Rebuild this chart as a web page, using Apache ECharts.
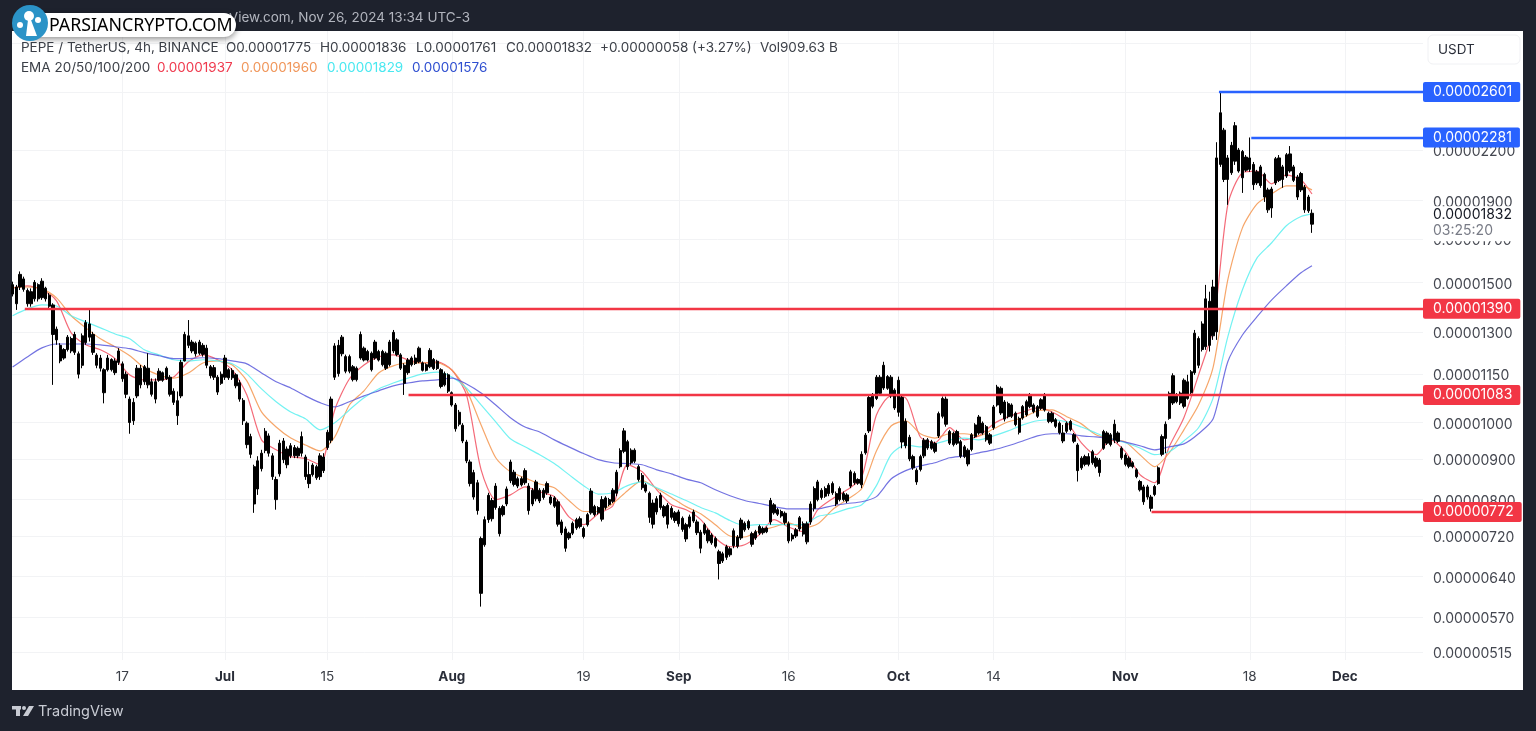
<!DOCTYPE html>
<html>
<head>
<meta charset="utf-8">
<style>html,body{margin:0;height:100%;background:#1e222d}#chart{width:1536px;height:731px}</style>
<script src="https://cdn.jsdelivr.net/npm/echarts@6/dist/echarts.min.js"></script>
</head>
<body>
<div id="chart"></div>
<script>
// prices are kept in units of 0.00000001 USDT, one bar per 12h from Jun 2
const opens = [1450,1480,1480,1515,1465,1410,1430,1490,1435,1475,1445,1405,1270,1250,1205,1235,1275,1225,1220,1180,1260,1330,1290,1215,1170,1165,1165,1200,1155,1190,1185,1150,1070,1005,1080,1170,1125,1170,1125,1070,
1130,1155,1135,1140,1095,1065,1080,1195,1285,1230,1258,1222,1250,1240,1175,1140,1140,1120,1140,1165,1138,1148,1122,1066,998,960,880,825,875,922,
962,908,848,862,948,885,908,930,908,915,905,860,860,880,855,905,930,950,1140,1250,1220,1210,1160,1175,1132,1205,1240,1198,1222,1205,
1228,1228,1170,1182,1230,1270,1216,1180,1155,1182,1205,1192,1188,1163,1175,1200,1169,1165,1115,1148,1090,1052,995,992,945,892,865,840,715,702,
755,798,782,780,766,790,845,866,832,850,840,832,790,802,822,805,816,806,804,795,750,735,716,726,737,757,736,744,770,784,
770,800,782,800,796,815,880,920,946,890,923,880,858,835,815,745,772,810,784,787,760,770,746,758,744,740,752,750,728,726,
732,722,715,688,670,677,694,700,718,716,747,737,725,716,726,736,729,750,788,777,773,769,746,714,720,735,746,708,750,780,
800,822,808,814,838,814,800,814,797,832,863,839,835,916,976,1082,1072,1140,1105,1142,1140,1098,1030,1075,935,958,906,871,873,908,
951,928,941,962,1018,1070,974,938,974,946,906,923,925,960,970,998,988,942,985,1052,1104,1010,1056,1018,1027,1012,1013,1022,1047,1052,
1018,1042,1084,1027,1003,1008,998,970,975,1003,965,937,877,886,906,890,902,897,928,970,938,950,970,928,910,902,890,872,843,830,
806,806,812,838,912,955,1012,1058,1084,1058,1048,1125,1090,1155,1275,1235,1245,1420,1285,1300,2110,2330,2150,2060,2360,2070,2190,2075,2150,2110,
2000,2095,2050,1960,1860,2000,2150,2020,2040,2175,2095,2035,1960,1975,1920,1775];
const closes = [1490,1410,1535,1470,1410,1460,1500,1430,1505,1430,1400,1290,1310,1195,1235,1280,1230,1290,1150,1285,1335,1280,1225,1180,1205,1090,1205,1165,1195,1230,1135,1085,1000,1060,1170,1115,1175,1115,1085,1125,
1160,1130,1170,1085,1060,1020,1190,1290,1250,1262,1220,1262,1218,1180,1145,1172,1092,1150,1205,1138,1162,1112,1070,1005,938,912,790,895,915,975,
915,855,800,942,898,926,935,908,928,960,855,838,884,852,908,870,972,1070,1248,1152,1280,1160,1210,1132,1170,1290,1198,1228,1165,1262,
1198,1182,1222,1262,1298,1217,1170,1120,1198,1205,1186,1240,1163,1182,1232,1169,1194,1110,1152,1095,1052,982,1030,948,895,838,806,775,610,755,
810,757,832,725,784,825,892,836,850,835,870,775,822,842,797,822,838,792,785,745,727,695,726,747,755,740,719,766,820,766,
782,756,804,789,822,866,922,976,880,923,894,848,828,820,760,792,802,782,763,745,780,753,772,734,714,761,772,727,695,744,
710,706,699,665,684,698,682,731,699,754,733,751,703,729,740,727,737,798,770,767,763,749,710,722,733,759,724,746,790,826,
842,805,826,834,816,790,826,800,811,867,840,848,912,964,1075,1048,1140,1088,1180,1104,1080,1043,1130,945,1003,900,877,842,906,950,
929,946,920,1026,1072,995,942,969,942,907,932,887,965,993,1016,970,951,965,1046,1108,1028,1061,1017,1052,994,972,1047,1062,1083,1032,
1047,1068,1037,1003,1027,989,971,948,998,980,947,870,902,906,886,919,881,865,974,942,965,995,947,903,886,881,880,855,823,795,
830,780,831,877,960,995,1088,1145,1062,1089,1130,1072,1158,1295,1180,1330,1430,1250,1480,2150,2450,2020,2020,2230,2130,2200,2030,2155,2080,1990,
2065,1985,1920,1850,1965,2145,2015,2095,2170,2070,2015,1920,2055,1850,1845,1832];
const highs = [1503,1489,1548,1525,1474,1474,1510,1496,1518,1481,1454,1412,1320,1258,1240,1288,1282,1300,1228,1294,1345,1385,1300,1222,1216,1170,1216,1204,1204,1240,1193,1159,1078,1073,1181,1181,1181,1222,1136,1136,
1170,1159,1176,1147,1104,1094,1199,1300,1345,1270,1264,1270,1258,1252,1181,1181,1147,1159,1216,1170,1170,1153,1131,1073,1003,968,885,907,924,984,
969,915,855,951,956,933,942,937,933,974,911,893,889,885,915,915,979,1078,1258,1270,1288,1217,1217,1181,1176,1301,1246,1234,1228,1270,
1234,1234,1228,1270,1307,1276,1222,1187,1205,1211,1217,1246,1193,1187,1240,1205,1199,1170,1159,1153,1094,1058,1037,998,951,898,872,847,719,762,
816,804,839,785,788,831,898,872,855,855,876,839,827,847,827,827,843,811,808,800,755,740,729,751,759,762,740,770,827,788,
785,808,808,804,827,872,928,984,951,928,928,885,864,839,819,800,808,816,788,792,785,774,777,762,748,766,777,755,733,748,
736,726,719,692,688,702,698,736,722,759,751,755,729,733,744,740,740,804,792,781,777,773,751,726,737,763,751,751,796,831,
847,827,831,839,843,819,831,819,815,872,868,851,920,970,1083,1089,1147,1147,1192,1147,1147,1104,1142,1083,1012,965,911,876,911,956,
956,951,946,1032,1078,1078,979,974,979,951,937,928,970,998,1022,1003,993,970,1052,1115,1110,1067,1062,1057,1032,1017,1052,1068,1089,1057,
1052,1073,1089,1032,1032,1013,1003,993,1003,1008,970,942,907,911,915,924,907,902,979,975,970,1008,975,933,915,907,894,876,847,835,
835,811,835,881,966,1003,1094,1153,1089,1094,1136,1148,1164,1307,1283,1340,1489,1460,1511,2250,2601,2345,2168,2252,2385,2213,2200,2168,2281,2125,
2077,2107,2060,1972,1978,2156,2168,2107,2181,2225,2107,2047,2065,1988,1932,1852];
const lows = [1440,1385,1467,1460,1398,1398,1419,1419,1426,1419,1392,1115,1252,1187,1199,1228,1222,1216,1136,1170,1252,1264,1216,1170,1159,1057,1159,1159,1147,1181,1125,1073,968,993,1073,1104,1115,1104,1078,1057,
1125,1125,1131,1078,1052,993,1073,1193,1240,1222,1210,1216,1210,1170,1136,1131,1083,1115,1131,1131,1131,1104,1062,993,928,902,770,811,868,915,
906,847,777,855,889,876,902,902,902,906,847,827,855,847,847,864,924,942,1131,1142,1211,1153,1153,1126,1126,1199,1193,1193,1159,1199,
1193,1176,1164,1176,1222,1211,1164,1083,1148,1176,1181,1187,1159,1159,1170,1164,1164,1104,1110,1089,1047,974,989,942,889,831,800,766,587,698,
748,751,777,719,762,785,839,831,827,831,835,766,785,796,792,800,811,788,781,740,722,688,712,722,733,736,715,740,766,762,
766,751,777,785,792,808,876,915,872,885,889,843,823,816,748,736,766,777,759,736,755,748,740,729,708,736,748,722,685,722,
705,702,695,635,666,672,678,695,695,712,729,733,698,712,722,723,726,744,766,763,759,744,705,709,716,730,719,703,744,773,
796,800,804,808,811,785,796,796,792,827,835,835,827,911,970,1042,1067,1083,1099,1099,1073,1037,1017,928,928,894,872,835,868,902,
924,924,915,956,1012,988,937,933,937,902,902,881,920,956,965,965,946,937,979,1047,1022,1003,1012,1013,989,966,1008,1017,1042,1027,
1013,1037,1032,998,998,984,966,942,970,975,942,843,872,881,881,885,876,855,924,937,933,942,942,898,881,876,876,851,819,788,
800,773,808,835,907,915,1008,1052,1057,1052,1042,1068,1084,1148,1170,1228,1234,1228,1270,1270,2095,2005,1877,2047,2107,2060,1943,2065,2065,1960,
1988,1972,1893,1834,1808,1988,2005,1972,2029,2060,2005,1904,1948,1834,1834,1731];

// moving averages, one reading every 2 days from Jun 2, last one is the current bar
const ema20 = [1476,1485,1468,1422,1296,1252,1234,1203,1147,1131,1131,1141,1192,1216,1199,1164,1083,951,924,906,901,885,1037,1134,1181,1209,1216,1199,1188,1192,1164,1083,872,800,811,830,818,807,761,744,768,786,885,867,823,788,777,755,716,698,702,723,755,739,729,777,802,823,854,1022,1080,1074,959,943,985,951,962,996,1017,1031,1043,1031,1002,943,911,951,919,860,840,932,1014,1147,1315,1877,2060,2070,1995,2047,2017,1937];
const ema50 = [1476,1480,1472,1434,1362,1315,1274,1245,1213,1171,1147,1137,1154,1188,1195,1181,1128,1031,987,956,937,921,959,1052,1096,1154,1178,1188,1188,1188,1164,1099,993,903,867,852,837,828,798,773,773,791,821,845,826,805,784,768,744,720,718,731,739,748,737,746,777,800,826,921,990,1005,968,956,968,968,962,982,1002,1014,1034,1037,1017,996,965,954,945,911,880,916,979,1052,1174,1511,1756,1882,1937,1983,1983,1960];
const ema100 = [1362,1389,1405,1401,1362,1338,1315,1292,1274,1234,1216,1199,1195,1199,1195,1185,1151,1102,1062,1031,1011,979,999,1037,1074,1102,1121,1137,1151,1157,1141,1105,1052,1002,954,932,911,888,860,833,813,816,833,842,828,813,798,782,770,753,742,744,744,744,744,762,768,779,788,833,911,937,932,940,951,956,951,962,976,993,1005,1008,1002,987,970,954,943,929,911,919,948,985,1074,1281,1468,1610,1682,1767,1815,1829];
const ema200 = [1174,1209,1241,1255,1255,1255,1252,1245,1238,1224,1213,1203,1203,1206,1203,1195,1185,1154,1125,1105,1080,1059,1046,1062,1080,1096,1112,1121,1128,1131,1137,1118,1089,1052,1014,987,973,951,932,914,898,890,888,885,872,862,849,840,823,809,798,791,784,779,779,779,786,791,795,807,849,870,882,890,903,908,916,924,935,948,962,968,968,962,959,954,945,935,924,932,940,968,1011,1192,1288,1358,1426,1485,1542,1574];

// drawn levels
const levelValues = [2601,2281,1390,1083,772];
const levelStarts = ['2024-11-13T19:00Z','2024-11-18T05:00Z','2024-06-03T16:00Z','2024-07-26T02:00Z','2024-11-04T14:00Z'];
const levelColors = ['#2962ff','#2962ff','#f23645','#f23645','#f23645'];

const yTicks = [3000,2600,2200,1900,1700,1500,1300,1150,1000,900,800,720,640,570,515];
const xTicks = ['2024-06-17','2024-07-01','2024-07-15','2024-08-01','2024-08-19','2024-09-01','2024-09-16','2024-10-01','2024-10-14','2024-11-01','2024-11-18','2024-12-01'];
const xLabels = ['17','Jul','15','Aug','19','Sep','16','Oct','14','Nov','18','Dec'];
const lastPrice = 1832;
const countdown = '03:25:20';

const DAY = 86400000;
const T0 = Date.UTC(2024, 5, 2);
const xMin = T0 - 2 * 3600000;
const xMax = Date.UTC(2024, 11, 11, 16);
const fmt = v => (v / 1e8).toFixed(8);
const xTickTimes = xTicks.map(d => Date.parse(d + 'T00:00Z'));

const bars = opens.map((o, i) => [T0 + i * DAY / 2, o, closes[i], lows[i], highs[i]]);
const emaLine = (vals, color) => ({
  type: 'line', data: vals.map((v, i) => [i < vals.length - 1 ? T0 + i * 2 * DAY : bars[bars.length - 1][0], v]),
  showSymbol: false, smooth: 0.25, z: 2, silent: true, lineStyle: { width: 1.2, color }
});

const levelLines = {
  type: 'line', data: [], z: 4, silent: true,
  markLine: {
    symbol: 'none', silent: true, animation: false,
    data: levelValues.map((v, i) => [
      { coord: [Date.parse(levelStarts[i]), v], lineStyle: { color: levelColors[i], width: 2.4, type: 'solid' },
        label: { backgroundColor: levelColors[i], formatter: fmt(v) } },
      { coord: [xMax, v] }
    ]),
    label: {
      show: true, position: 'end', distance: 0, color: '#fff', fontFamily: 'Inter', fontSize: 14,
      padding: [3, 8, 3, 10], borderRadius: 2
    }
  }
};

// current price and countdown, painted over the axis labels like the original
const lastLabel = {
  type: 'line', data: [], z: 3, silent: true,
  markLine: {
    symbol: 'none', silent: true, animation: false, lineStyle: { color: '#fff', width: 0.1 },
    data: [[{ coord: [xMax - DAY, lastPrice] }, { coord: [xMax, lastPrice] }]],
    label: {
      show: true, position: 'end', distance: 0, offset: [0, 10.5], backgroundColor: '#fff', padding: [1, 10, 2, 10],
      formatter: '{a|' + fmt(lastPrice) + '}\n{b|' + countdown + '}',
      rich: {
        a: { color: '#131722', fontFamily: 'Inter', fontSize: 14, lineHeight: 16, width: 80 },
        b: { color: '#787b86', fontFamily: 'Inter', fontSize: 14, lineHeight: 16, width: 80 }
      }
    }
  }
};

const headerText = (x, y, text, fill, size) => ({
  type: 'text', x, y, z: 10, style: { text, fill, font: (size || 13.5) + 'px Inter', textVerticalAlign: 'middle' }
});

const chart = echarts.init(document.getElementById('chart'));
chart.setOption({
  animation: false,
  backgroundColor: '#1e222d',
  grid: { left: 12, right: 113, top: 31, height: 629, containLabel: false },
  xAxis: {
    type: 'value', min: xMin, max: xMax, scale: true,
    axisLine: { show: false }, axisTick: { show: false, customValues: xTickTimes },
    splitLine: { show: true, lineStyle: { color: '#f2f3f5', width: 1 } },
    axisLabel: {
      customValues: xTickTimes, hideOverlap: false, margin: 10,
      formatter: v => {
        const s = xLabels[xTickTimes.indexOf(v)];
        return isNaN(+s) ? '{m|' + s + '}' : '{d|' + s + '}';
      },
      rich: {
        m: { fontFamily: 'Inter', fontWeight: 'bold', fontSize: 13.5, color: '#2a2e39' },
        d: { fontFamily: 'Inter', fontSize: 13.5, color: '#3c4048' }
      }
    }
  },
  yAxis: {
    type: 'log', logBase: 10, position: 'right', min: 503, max: 3104,
    axisLine: { show: false }, axisTick: { show: false, customValues: yTicks },
    splitLine: { show: true, lineStyle: { color: '#f2f3f5', width: 1 } },
    minorSplitLine: { show: false },
    axisLabel: {
      customValues: yTicks, margin: 10, hideOverlap: false,
      formatter: v => '{v|' + fmt(v) + '}',
      rich: { v: { color: '#444750', fontFamily: 'Inter', fontSize: 14, padding: [4, 0, 0, 0] } }
    }
  },
  series: [
    emaLine(ema20, 'rgba(242,80,96,0.85)'),
    emaLine(ema50, 'rgba(245,150,80,0.85)'),
    emaLine(ema100, 'rgba(90,240,240,0.85)'),
    emaLine(ema200, 'rgba(90,90,220,0.85)'),
    {
      type: 'candlestick', data: bars, encode: { x: 0, y: [1, 2, 3, 4] }, z: 3, silent: true, barWidth: 2.8,
      itemStyle: { color: '#000', color0: '#000', borderColor: '#000', borderColor0: '#000', borderWidth: 1 }
    },
    levelLines,
    lastLabel
  ],
  graphic: [
    // white panel behind the plot
    { type: 'rect', z: -10, silent: true, shape: { x: 12, y: 31, width: 1511, height: 659 }, style: { fill: '#fff' } },
    // published line and the sticker over it
    { type: 'text', z: 10, x: 470, y: 18, style: { text: 'Published on TradingView.com, Nov 26, 2024 13:34 UTC-3', fill: '#b2b5be', font: '13.5px Inter', textAlign: 'right', textVerticalAlign: 'middle' } },
    { type: 'rect', z: 11, shape: { x: 0, y: 0, width: 236, height: 13 }, style: { fill: '#1e222d' } },
    { type: 'rect', z: 11, shape: { x: 22, y: 13, width: 214, height: 24, r: 12 }, style: { fill: '#fff', shadowBlur: 6, shadowColor: 'rgba(0,0,0,0.45)', shadowOffsetY: 2 } },
    { type: 'circle', z: 12, shape: { cx: 30, cy: 23, r: 18 }, style: { fill: '#2b93c7' } },
    { type: 'circle', z: 13, shape: { cx: 29, cy: 16, r: 5 }, style: { fill: '#fff' } },
    { type: 'circle', z: 13, shape: { cx: 20, cy: 25, r: 3 }, style: { fill: '#fff' } },
    { type: 'circle', z: 13, shape: { cx: 38, cy: 20, r: 3 }, style: { fill: '#fff' } },
    { type: 'polygon', z: 13, shape: { points: [[26, 36], [28, 20], [31, 20], [37, 36]] }, style: { fill: '#fff' } },
    { type: 'text', z: 13, x: 49, y: 26, style: { text: 'PARSIANCRYPTO.COM', fill: '#000', font: '17.8px "Noto Sans"', textVerticalAlign: 'middle' } },
    // legend rows
    headerText(21, 48, 'PEPE / TetherUS, 4h, BINANCE', '#3c4048'),
    headerText(226, 48, 'O0.00001775', '#3c4048'),
    headerText(320, 48, 'H0.00001836', '#3c4048'),
    headerText(416, 48, 'L0.00001761', '#3c4048'),
    headerText(506, 48, 'C0.00001832', '#3c4048'),
    headerText(600, 48, '+0.00000058 (+3.27%)', '#3c4048'),
    headerText(760, 48, 'Vol909.63 B', '#3c4048'),
    headerText(21, 67.5, 'EMA 20/50/100/200', '#3c4048'),
    headerText(157, 67.5, '0.00001937', '#ef3a4e'),
    headerText(241, 67.5, '0.00001960', '#f0965a'),
    headerText(327, 67.5, '0.00001829', '#49e8f0'),
    headerText(412, 67.5, '0.00001576', '#2f4fd0'),
    // currency box
    { type: 'rect', z: 10, shape: { x: 1428, y: 35, width: 92, height: 29, r: 5 }, style: { fill: '#fff', stroke: '#f0f1f4' } },
    headerText(1438, 50, 'USDT', '#2a2e39', 13.5),
    // footer
    { type: 'rect', z: 10, shape: { x: 12, y: 706, width: 9, height: 3.5 }, style: { fill: '#c8cbd3' } },
    { type: 'rect', z: 10, shape: { x: 16, y: 706, width: 4, height: 10 }, style: { fill: '#c8cbd3' } },
    { type: 'circle', z: 10, shape: { cx: 24, cy: 708, r: 2 }, style: { fill: '#c8cbd3' } },
    { type: 'polygon', z: 10, shape: { points: [[29, 706], [34, 706], [28, 716], [23, 716]] }, style: { fill: '#c8cbd3' } },
    headerText(38, 712, 'TradingView', '#c8cbd3', 14.5)
  ]
});
</script>
</body>
</html>
